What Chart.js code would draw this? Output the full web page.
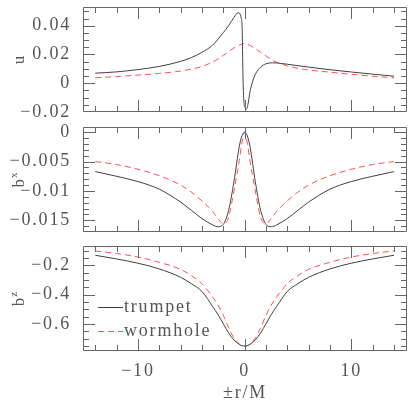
<!DOCTYPE html>
<html>
<head>
<meta charset="utf-8">
<script src="https://cdn.jsdelivr.net/npm/chart.js@4"></script>
<style>
  body { margin: 0; background: #fff; }
  #wrap { position: relative; width: 415px; height: 408px; }
  canvas { position: absolute; left: 0; }
</style>
</head>
<body>
<div id="wrap">
  <canvas id="cu" width="415" height="120" style="top:0"></canvas>
  <canvas id="cbx" width="415" height="120" style="top:120px"></canvas>
  <canvas id="cbz" width="415" height="168" style="top:240px"></canvas>
</div>
<script>
// series labels
const seriesNames = ["trumpet", "wormhole"];

// shared r grid for the smooth curves
const rGrid = [-14, -12, -10, -8, -6, -5, -4, -3, -2.5, -2, -1.5, -1, -0.5, -0.25, 0,
  0.25, 0.5, 1, 1.5, 2, 2.5, 3, 4, 5, 6, 8, 10, 12, 14];

// top panel: u
const uTrumpetR = [-14, -12, -10, -8, -6, -5, -4, -3, -2, -1.5, -1, -0.62, -0.31, -0.22, -0.18,
  -0.12, -0.05, 0.05, 0.2, 0.35, 0.5, 0.7, 1, 1.5, 2, 2.6, 3, 4, 5, 6, 8, 10, 12, 14];
const uTrumpet = [0.0070, 0.0079, 0.0095, 0.0117, 0.0152, 0.0178, 0.0215, 0.0265, 0.0352, 0.0400,
  0.0458, 0.0490, 0.0450, 0.0350, 0.0150, -0.0050, -0.0140, -0.0170, -0.0178, -0.0130, -0.0060,
  0.0000, 0.0062, 0.0112, 0.0135, 0.0142, 0.0141, 0.0132, 0.0122, 0.0112, 0.0094, 0.0078, 0.0063, 0.0049];
const uWormhole = [0.0038, 0.0046, 0.0057, 0.0068, 0.0085, 0.0098, 0.0116, 0.0148, 0.0168, 0.0193,
  0.0220, 0.0245, 0.0265, 0.0272, 0.0279, 0.0271, 0.0263, 0.0242, 0.0215, 0.0190, 0.0165, 0.0146,
  0.0120, 0.0104, 0.0092, 0.0077, 0.0062, 0.0049, 0.0038];

// middle panel: b^x
const bxTrumpet = [-0.0067, -0.0075, -0.0084, -0.0097, -0.0119, -0.0133, -0.0147, -0.0158, -0.0161,
  -0.0157, -0.0133, -0.0084, -0.0024, -0.0006, 0.0, -0.0006, -0.0024, -0.0084, -0.0133, -0.0157,
  -0.0161, -0.0158, -0.0147, -0.0133, -0.0119, -0.0097, -0.0084, -0.0075, -0.0067];
const bxWormhole = [-0.0050, -0.0055, -0.0063, -0.0074, -0.0090, -0.0102, -0.0117, -0.0135, -0.0147,
  -0.0156, -0.0145, -0.0100, -0.0048, -0.0018, 0.0, -0.0018, -0.0048, -0.0100, -0.0145, -0.0156,
  -0.0147, -0.0135, -0.0117, -0.0102, -0.0090, -0.0074, -0.0063, -0.0055, -0.0050];

// bottom panel: b^z
const bzTrumpet = [-0.132, -0.157, -0.186, -0.225, -0.282, -0.325, -0.378, -0.480, -0.535, -0.598,
  -0.660, -0.708, -0.738, -0.747, -0.750, -0.747, -0.738, -0.708, -0.660, -0.598, -0.535, -0.480,
  -0.378, -0.325, -0.282, -0.225, -0.186, -0.157, -0.132];
const bzWormhole = [-0.103, -0.120, -0.144, -0.180, -0.228, -0.270, -0.325, -0.415, -0.470, -0.540,
  -0.625, -0.695, -0.735, -0.746, -0.750, -0.746, -0.735, -0.695, -0.625, -0.540, -0.470, -0.415,
  -0.325, -0.270, -0.228, -0.180, -0.144, -0.120, -0.103];

// axis ticks
const xMajor = [-10, 0, 10];
const xMinorStep = 2;
const uMajor = [-0.02, 0, 0.02, 0.04];
const bxMajor = [-0.015, -0.01, -0.005, 0];
const bzMajor = [-0.6, -0.4, -0.2];

const textColor = "#555";
const frameColor = "#666";
const fontFamily = "'Liberation Serif', 'Times New Roman', serif";

function fmt(v) {
  if (Math.abs(v) < 1e-9) return "0";
  const s = String(+Math.abs(v).toFixed(4));
  return (v < 0 ? "\u2212" : "") + s;
}

function range(from, to, step) {
  const out = [];
  for (let v = from; v <= to + step / 2; v += step) out.push(+v.toFixed(6));
  return out;
}

function pts(xs, ys) {
  return xs.map((x, i) => ({ x: x, y: ys[i] }));
}

// frame with inward ticks on all four sides, y title, optional legend
const frameTicks = {
  id: "frameTicks",
  beforeDraw(chart) {
    chart.ctx.letterSpacing = "1.8px";
  },
  afterDraw(chart, args, o) {
    const { ctx, chartArea: a, scales } = chart;
    const x = scales.x, y = scales.y;
    ctx.save();
    ctx.letterSpacing = "0px";
    ctx.strokeStyle = frameColor;
    ctx.lineWidth = 1;
    ctx.beginPath();
    ctx.rect(a.left + 0.5, a.top + 0.5, a.right - a.left - 1, a.bottom - a.top - 1);
    ctx.stroke();

    ctx.beginPath();
    range(-14, 14, xMinorStep).concat(xMajor).forEach((v) => {
      const len = xMajor.includes(v) ? 12 : 6;
      const px = Math.round(x.getPixelForValue(v)) + 0.5;
      ctx.moveTo(px, a.top); ctx.lineTo(px, a.top + len);
      ctx.moveTo(px, a.bottom); ctx.lineTo(px, a.bottom - len);
    });
    o.yMinor.concat(o.yMajor).forEach((v) => {
      const len = o.yMajor.includes(v) ? 12 : 6;
      const py = Math.round(y.getPixelForValue(v)) + 0.5;
      if (py < a.top + 1 || py > a.bottom - 1) return;
      ctx.moveTo(a.left, py); ctx.lineTo(a.left + len, py);
      ctx.moveTo(a.right, py); ctx.lineTo(a.right - len, py);
    });
    ctx.stroke();

    // y title with superscript
    ctx.fillStyle = textColor;
    ctx.letterSpacing = "1px";
    ctx.translate(24, (a.top + a.bottom) / 2);
    ctx.rotate(-Math.PI / 2);
    ctx.textBaseline = "alphabetic";
    ctx.textAlign = "left";
    ctx.font = "17px " + fontFamily;
    const w1 = ctx.measureText(o.title[0]).width;
    ctx.font = "11px " + fontFamily;
    const w2 = o.title[1] ? ctx.measureText(o.title[1]).width : 0;
    const start = -(w1 + w2) / 2;
    ctx.font = "17px " + fontFamily;
    ctx.fillText(o.title[0], start, 0);
    if (o.title[1]) {
      ctx.font = "11px " + fontFamily;
      ctx.fillText(o.title[1], start + w1, -7);
    }
    ctx.restore();

    if (o.legend) {
      ctx.save();
      ctx.letterSpacing = "1.8px";
      ctx.font = "18px " + fontFamily;
      ctx.textBaseline = "middle";
      ctx.fillStyle = textColor;
      chart.data.datasets.forEach((ds, i) => {
        const ly = a.top + 61 + i * 24 + 0.5;
        ctx.strokeStyle = ds.borderColor;
        ctx.lineWidth = 1;
        ctx.setLineDash(ds.borderDash || []);
        ctx.beginPath();
        ctx.moveTo(a.left + 15, ly);
        ctx.lineTo(a.left + 40, ly);
        ctx.stroke();
        ctx.setLineDash([]);
        ctx.fillText(ds.label, a.left + 41, ly);
      });
      ctx.restore();
    }
  },
};

function makeChart(id, sets, yMin, yMax, yMajor, yMinorStep, title, isBottom) {
  const yMinor = range(yMin - (yMin % yMinorStep), yMax, yMinorStep);
  return new Chart(document.getElementById(id), {
    type: "line",
    data: {
      datasets: [
        {
          label: seriesNames[0],
          data: sets[0],
          borderColor: "#404040",
          borderWidth: 1,
          pointRadius: 0,
          cubicInterpolationMode: "monotone",
        },
        {
          label: seriesNames[1],
          data: sets[1],
          borderColor: "#ff5050",
          borderWidth: 1,
          borderDash: [6, 4],
          pointRadius: 0,
          cubicInterpolationMode: "monotone",
        },
      ],
    },
    options: {
      responsive: false,
      animation: false,
      events: [],
      layout: {
        padding: { top: isBottom ? 6 : 7, bottom: isBottom ? 0 : 8, right: 8, left: 0 },
      },
      plugins: {
        legend: { display: false },
        tooltip: { enabled: false },
        frameTicks: { yMajor: yMajor, yMinor: yMinor, title: title, legend: isBottom },
      },
      scales: {
        x: {
          type: "linear",
          min: -15.15,
          max: 15.22,
          display: isBottom,
          grid: { display: false, drawTicks: false },
          border: { display: false },
          afterBuildTicks: (s) => { s.ticks = xMajor.map((v) => ({ value: v })); },
          afterFit: (s) => {
            s.height = isBottom ? 57 : 0;
            s.paddingLeft = 0;
            s.paddingRight = 0;
          },
          ticks: {
            padding: 9,
            color: textColor,
            font: { family: fontFamily, size: 18 },
            maxRotation: 0,
            autoSkip: false,
            callback: fmt,
          },
          title: {
            display: true,
            text: "\u00b1r/M",
            color: textColor,
            font: { family: fontFamily, size: 18 },
            padding: { top: 0, bottom: 4 },
          },
        },
        y: {
          type: "linear",
          min: yMin,
          max: yMax,
          grid: { display: false, drawTicks: false },
          border: { display: false },
          afterBuildTicks: (s) => { s.ticks = yMajor.map((v) => ({ value: v })); },
          afterFit: (s) => { s.width = 83; s.paddingTop = 0; s.paddingBottom = 0; },
          ticks: {
            padding: 12,
            color: textColor,
            font: { family: fontFamily, size: 18 },
            autoSkip: false,
            callback: fmt,
          },
        },
      },
    },
    plugins: [frameTicks],
  });
}

makeChart("cu", [pts(uTrumpetR, uTrumpet), pts(rGrid, uWormhole)],
  -0.02, 0.053, uMajor, 0.005, ["u", ""], false);
makeChart("cbx", [pts(rGrid, bxTrumpet), pts(rGrid, bxWormhole)],
  -0.017, 0.0009, bxMajor, 0.001, ["b", "x"], false);
makeChart("cbz", [pts(rGrid, bzTrumpet), pts(rGrid, bzWormhole)],
  -0.783, -0.069, bzMajor, 0.05, ["b", "z"], true);
</script>
</body>
</html>
